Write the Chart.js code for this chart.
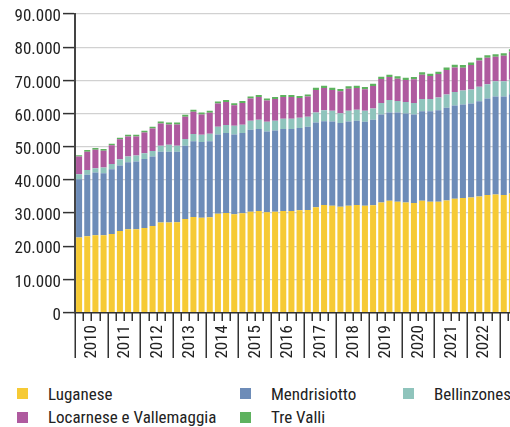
<!DOCTYPE html>
<html><head><meta charset="utf-8">
<script src="https://cdn.jsdelivr.net/npm/chart.js@4"></script>
<style>
html,body{margin:0;padding:0;width:510px;height:427px;overflow:hidden;background:#fff;}
#wrap{position:absolute;left:0;top:0;width:516px;height:370px;}
.lg{position:absolute;font:17px/17px 'Roboto Condensed','Roboto',sans-serif;font-stretch:condensed;color:#222;white-space:nowrap;}
.sq{position:absolute;width:11px;height:11px;}
</style></head><body>
<div id="wrap"><canvas id="c" width="516" height="370"></canvas></div>
<div id="legend"></div>
<script>
const quarters = ['2010 T1','2010 T2','2010 T3','2010 T4','2011 T1','2011 T2','2011 T3','2011 T4',
'2012 T1','2012 T2','2012 T3','2012 T4','2013 T1','2013 T2','2013 T3','2013 T4',
'2014 T1','2014 T2','2014 T3','2014 T4','2015 T1','2015 T2','2015 T3','2015 T4',
'2016 T1','2016 T2','2016 T3','2016 T4','2017 T1','2017 T2','2017 T3','2017 T4',
'2018 T1','2018 T2','2018 T3','2018 T4','2019 T1','2019 T2','2019 T3','2019 T4',
'2020 T1','2020 T2','2020 T3','2020 T4','2021 T1','2021 T2','2021 T3','2021 T4',
'2022 T1','2022 T2','2022 T3','2022 T4','2023 T1','2023 T2'];
const years = ['2010','2011','2012','2013','2014','2015','2016','2017','2018','2019','2020','2021','2022'];
const yTicks = [0,10000,20000,30000,40000,50000,60000,70000,80000,90000];
const seriesNames = ['Luganese','Mendrisiotto','Bellinzonese','Locarnese e Vallemaggia','Tre Valli'];
const seriesColors = ['#F6CA35','#6D8CB8','#8FC4BC','#AF5A9F','#5EB25F'];

const luganese = [22600,23000,23300,23300,23700,24600,25100,25100,25500,26100,27100,27100,27200,28200,28800,28600,28700,29800,30000,29600,29900,30400,30600,30200,30400,30600,30600,30800,30900,31700,32400,32200,31900,32200,32400,32200,32300,33200,33700,33400,33200,33000,33700,33400,33400,33800,34300,34500,34700,35000,35400,35600,35400,35900];
const mendrisiotto = [17600,18500,18900,18700,19500,19700,20200,20400,20800,20900,21400,21400,21300,22100,22800,22800,22900,23900,24100,24100,24200,24700,24700,24400,24500,24700,24700,24800,25100,25600,25300,25400,25200,25400,25400,25300,25800,26500,26600,26900,26800,26700,27000,27300,27600,27900,28100,28200,28300,28700,29100,29500,29700,29900];
const bellinzonese = [1500,1500,1300,1700,1600,1900,1700,1800,1700,1700,1800,2100,1800,2000,2200,2200,2300,2300,2400,2600,2500,2700,2800,2900,2900,3100,3100,3100,3000,3000,3300,3200,3000,3200,3300,3300,3400,3500,3800,3500,3500,3500,3700,3700,3800,4000,4100,4200,4200,4400,4300,4600,4600,4400];
const locarnese = [5300,5500,5600,5100,5600,6000,6100,5800,6300,6800,6700,6100,6400,6700,6700,6100,6300,7000,7000,6200,6600,6700,6900,6400,6600,6600,6600,6000,6100,6800,6700,6300,6600,6700,6600,6500,6800,7200,6900,6700,6600,7100,7300,6900,7100,7400,7400,6900,7400,7900,8000,7400,7700,8400];
const treValli = [400,500,500,500,500,500,500,500,500,500,600,600,600,600,600,600,600,600,600,600,600,600,600,600,600,600,600,600,600,700,700,700,700,700,700,700,700,700,700,700,700,700,700,700,700,800,800,800,800,800,800,800,800,800];

const FONT = "'Roboto Condensed','Roboto',sans-serif";
const seriesData = [luganese, mendrisiotto, bellinzonese, locarnese, treValli];

const fmt = v => v.toString().replace(/\B(?=(\d{3})+(?!\d))/g, '.');

const xTicksPlugin = {
  id: 'xTicks',
  afterDraw(chart) {
    const sx = chart.scales.x, ctx = chart.ctx;
    const y0 = chart.chartArea.bottom;
    ctx.save();
    ctx.strokeStyle = '#333';
    ctx.lineWidth = 1.5;
    for (let i = 0; i <= quarters.length; i++) {
      const px = Math.round(sx.getPixelForValue(i - 0.5)) + 0.25;
      const major = i % 4 === 0;
      ctx.beginPath();
      ctx.moveTo(px, y0);
      ctx.lineTo(px, y0 + (major ? 45.5 : 8.5));
      ctx.stroke();
    }
    ctx.fillStyle = '#222';
    ctx.font = 'condensed 17px ' + FONT;
    ctx.textAlign = 'right';
    ctx.textBaseline = 'alphabetic';
    years.forEach((yr, k) => {
      const px = sx.getPixelForValue(4 * k + 1.5);
      ctx.save();
      ctx.translate(px + 5, y0 + 12.5);
      ctx.rotate(-Math.PI / 2);
      ctx.fillText(yr, 0, 0);
      ctx.restore();
    });
    ctx.restore();
  }
};

new Chart(document.getElementById('c'), {
  type: 'bar',
  data: {
    labels: quarters,
    datasets: seriesNames.map((n, i) => ({
      label: n,
      data: seriesData[i],
      backgroundColor: seriesColors[i],
      borderWidth: 0,
      categoryPercentage: 1,
      barPercentage: 0.74
    }))
  },
  options: {
    responsive: false,
    animation: false,
    events: [],
    layout: { padding: { top: 14, right: 0, left: 0, bottom: 0 } },
    plugins: { legend: { display: false }, tooltip: { enabled: false } },
    scales: {
      x: {
        stacked: true,
        ticks: { display: false },
        grid: { display: false, drawTicks: false },
        border: { display: true, color: '#333', width: 1.5 },
        afterFit(s) { s.height = 57.5; }
      },
      y: {
        stacked: true,
        min: 0, max: 90000,
        z: 1,
        afterBuildTicks(s) { s.ticks = yTicks.map(v => ({ value: v })); },
        ticks: {
          padding: 2,
          labelOffset: 3,
          color: '#222',
          font: { family: FONT, size: 17 },
          callback: v => fmt(v)
        },
        grid: { color: 'rgba(0,0,0,0.18)', lineWidth: 1.2, tickLength: 12, tickColor: '#333', tickWidth: 1.5 },
        border: { display: true, color: '#444', width: 2 },
        afterFit(s) { s.width = 75; }
      }
    }
  },
  plugins: [xTicksPlugin]
});

// legend
const lg = document.getElementById('legend');
const cols = [17, 240, 403];
const rowSq = [388, 411.5];
const rowTx = [385.7, 409.2];
seriesNames.forEach((n, i) => {
  const c = i % 3, r = Math.floor(i / 3);
  const sq = document.createElement('div');
  sq.className = 'sq';
  sq.style.left = cols[c] + 'px';
  sq.style.top = rowSq[r] + 'px';
  sq.style.background = seriesColors[i];
  lg.appendChild(sq);
  const t = document.createElement('div');
  t.className = 'lg';
  t.style.left = (cols[c] + 31) + 'px';
  t.style.top = rowTx[r] + 'px';
  t.textContent = n;
  lg.appendChild(t);
});
</script>
</body></html>
